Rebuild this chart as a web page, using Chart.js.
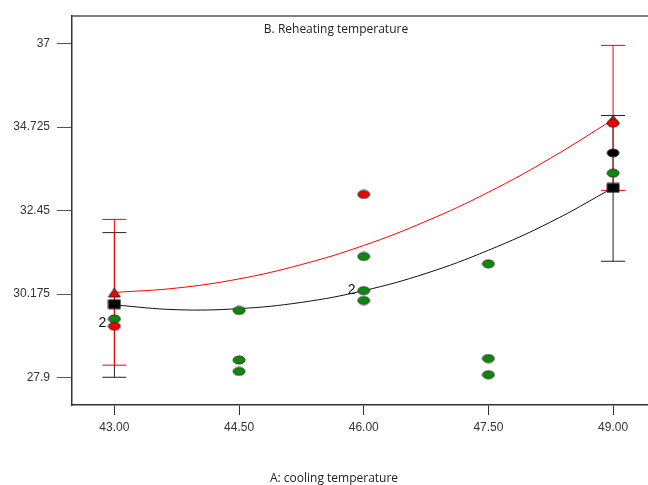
<!DOCTYPE html>
<html>
<head>
<meta charset="utf-8">
<script src="https://cdn.jsdelivr.net/npm/chart.js@4.4.1/dist/chart.umd.min.js"></script>
<style>
  body { margin: 0; background: #fff; }
  #wrap { width: 648px; height: 485px; }
</style>
</head>
<body>
<div id="wrap"><canvas id="myChart" width="648" height="485"></canvas></div>
<script>
// axis ticks
var xTicks = [43, 44.5, 46, 47.5, 49];
var yTicks = [27.9, 30.175, 32.45, 34.725, 37];
var yTickLabels = ['27.9', '30.175', '32.45', '34.725', '37'];

// design points (observed)
var greenX = [43, 44.5, 44.5, 44.5, 46, 46, 46, 47.5, 47.5, 47.5, 49];
var greenY = [29.50, 29.73, 28.38, 28.07, 31.20, 30.27, 30.00, 31.00, 28.42, 27.98, 33.47];
var redX = [43, 46, 49];
var redY = [29.30, 32.89, 34.83];
var blackX = [49];
var blackY = [34.02];

// predicted ends
var triX = [43, 49];
var triY = [30.22, 34.93];
var sqX = [43, 49];
var sqY = [29.90, 33.07];

// fitted curves
var curveX = [43, 43.75, 44.5, 45.25, 46, 46.75, 47.5, 48.25, 49];
var redCurve = [30.22, 30.34, 30.59, 30.98, 31.50, 32.16, 32.95, 33.88, 34.93];
var blackCurve = [29.88, 29.75, 29.78, 29.95, 30.27, 30.74, 31.37, 32.14, 33.07];

// LSD bars
var barX = [43, 49];
var redLow = [28.24, 33.00];
var redHigh = [32.21, 36.95];
var blackLow = [27.91, 31.07];
var blackHigh = [31.85, 35.04];

// "2" labels (repeated points)
var repX = [43, 46];
var repY = [29.38, 30.27];

function pts(xs, ys) {
    return xs.map(function(x, i){ return {x: x, y: ys[i]}; });
}

function marker(shape, fill, w, h) {
    var c = document.createElement('canvas');
    c.width = w + 2; c.height = h + 2;
    var g = c.getContext('2d');
    g.fillStyle = fill;
    g.strokeStyle = '#333';
    g.lineWidth = 1;
    g.beginPath();
    if (shape === 'ellipse') {
        g.ellipse(c.width/2, c.height/2, w/2, h/2, 0, 0, Math.PI*2);
    } else if (shape === 'tri') {
        g.moveTo(c.width/2, 1);
        g.lineTo(w + 1, h + 1);
        g.lineTo(1, h + 1);
        g.closePath();
    } else {
        g.rect(1, 1, w, h);
    }
    g.fill();
    g.stroke();
    return c;
}

var greenDot = marker('ellipse', '#0a8a0a', 12, 8);
var redDot = marker('ellipse', '#f00000', 12, 8);
var blackDot = marker('ellipse', '#000', 12, 8);
var redTri = marker('tri', '#f00000', 12, 9);
var blackSq = marker('rect', '#000', 12, 9);

function errBar(x, lo, hi, col, ord) {
    return {
        type: 'line',
        order: ord,
        data: [{x: x, y: lo}, {x: x, y: hi}],
        showLine: true,
        borderColor: col,
        borderWidth: 1,
        pointStyle: 'line',
        pointRadius: 12,
        pointBorderColor: col,
        pointBorderWidth: 1
    };
}

// higher order = drawn first (underneath)
var datasets = [];
for (var i = 0; i < barX.length; i++) {
    datasets.push(errBar(barX[i], blackLow[i], blackHigh[i], '#222', 9));
}
for (var j = 0; j < barX.length; j++) {
    datasets.push(errBar(barX[j], redLow[j], redHigh[j], '#f00', 8));
}
datasets.push({
    type: 'line', order: 7, data: pts(curveX, blackCurve), showLine: true,
    borderColor: '#111', borderWidth: 1, tension: 0.4, pointRadius: 0
});
datasets.push({
    type: 'line', order: 6, data: pts(curveX, redCurve), showLine: true,
    borderColor: '#f00', borderWidth: 1, tension: 0.4, pointRadius: 0
});
datasets.push({ order: 5, data: pts(greenX, greenY), pointStyle: greenDot, pointRadius: 6 });
datasets.push({ order: 4, data: pts(blackX, blackY), pointStyle: blackDot, pointRadius: 6 });
datasets.push({ order: 3, data: pts(sqX, sqY), pointStyle: blackSq, pointRadius: 6 });
datasets.push({ order: 2, data: pts(triX, triY), pointStyle: redTri, pointRadius: 6 });
datasets.push({ order: 1, data: pts(redX, redY), pointStyle: redDot, pointRadius: 6 });

var extras = {
    id: 'extras',
    afterDraw: function(chart) {
        var c = chart.ctx, a = chart.chartArea;
        var xs = chart.scales.x, ys = chart.scales.y;
        c.save();
        // top frame line
        c.strokeStyle = '#555';
        c.lineWidth = 1.5;
        c.beginPath();
        c.moveTo(a.left, a.top);
        c.lineTo(chart.width, a.top);
        c.stroke();
        // titles
        c.fillStyle = '#222';
        c.textAlign = 'center';
        c.textBaseline = 'middle';
        c.font = '12px "Open Sans"';
        c.fillText('B. Reheating temperature', 336, 30);
        c.fillText('A: cooling temperature', 334, 479);
        // replicate counts
        c.font = '14px "Liberation Sans"';
        c.fillStyle = '#111';
        for (var k = 0; k < repX.length; k++) {
            c.fillText('2', xs.getPixelForValue(repX[k]) - 12, ys.getPixelForValue(repY[k]));
        }
        c.restore();
    }
};

new Chart(document.getElementById('myChart'), {
    type: 'scatter',
    data: { datasets: datasets },
    options: {
        responsive: false,
        animation: false,
        layout: { autoPadding: false, padding: { top: 16, right: 0, left: 0, bottom: 0 } },
        plugins: { legend: { display: false }, tooltip: { enabled: false } },
        scales: {
            x: {
                type: 'linear',
                min: 42.49, max: 49.42,
                afterBuildTicks: function(s){ s.ticks = xTicks.map(function(v){ return {value: v}; }); },
                afterFit: function(s){ s.height = 80; s.paddingLeft = 0; s.paddingRight = 0; },
                ticks: {
                    callback: function(v){ return Number(v).toFixed(2); },
                    color: '#333', font: { family: 'Liberation Sans', size: 12 }, padding: 5,
                    maxRotation: 0
                },
                grid: { drawOnChartArea: false, tickLength: 10, color: '#333' },
                border: { color: '#333', width: 1.5 }
            },
            y: {
                type: 'linear',
                min: 27.155, max: 37.75,
                afterBuildTicks: function(s){ s.ticks = yTicks.map(function(v){ return {value: v}; }); },
                afterFit: function(s){ s.width = 72; s.paddingTop = 0; s.paddingBottom = 0; },
                ticks: {
                    callback: function(v){ var i = yTicks.indexOf(v); return i >= 0 ? yTickLabels[i] : ''; },
                    color: '#333', font: { family: 'Liberation Sans', size: 12 }, padding: 7
                },
                grid: { drawOnChartArea: false, tickLength: 15, color: '#555' },
                border: { color: '#333', width: 1.5 }
            }
        }
    },
    plugins: [extras]
});
</script>
</body>
</html>
